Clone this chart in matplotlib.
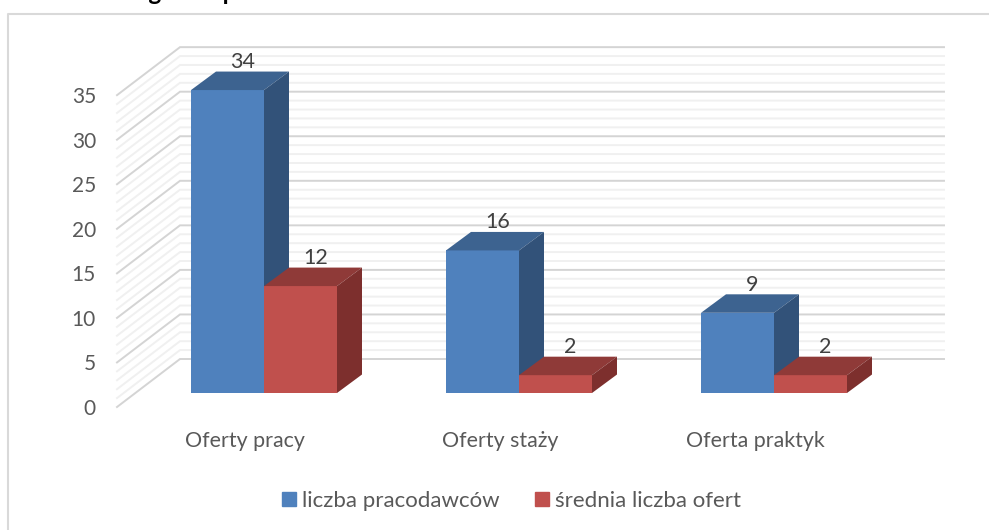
import numpy as np
import matplotlib
matplotlib.use('Agg')
import matplotlib.pyplot as plt
from matplotlib.patches import Patch

plt.rcParams['font.family'] = ['Lato', 'DejaVu Sans']

categories = ['Oferty pracy', 'Oferty staży', 'Oferta praktyk']
pracodawcy = [34, 16, 9]
oferty = [12, 2, 2]
series_names = ['liczba pracodawców', 'średnia liczba ofert']
y_ticks = [0, 5, 10, 15, 20, 25, 30, 35]
title = 'Liczba ofert ogółem pracodawców'

W, H = 989, 530
CAT_PX = 255.0  # px per category
VAL_PX = 8.91  # px per value unit
X0, Y0 = 264.0, 393.0  # px of first category, value 0 on the bar front

BAR_W = 73 / CAT_PX
DX = 25 / CAT_PX  # bar depth
DY = 18.5 / VAL_PX
WALL_BACK = (Y0 - 359) / VAL_PX  # value shift of the back wall
WALL_FRONT = (Y0 - 407) / VAL_PX  # value shift of the front of side wall
WALL_X0 = (117 - X0) / CAT_PX
WALL_X1 = (180 - X0) / CAT_PX
WALL_X2 = (944 - X0) / CAT_PX

BLUE = ('#4f81bd', '#3d6390', '#325279')
RED = ('#c0504d', '#8f3a38', '#7d2f2d')


def draw_bar(ax, x, v, colors):
    # front, top and side faces of one 3d looking bar
    ax.bar(x, v, BAR_W, align='edge', color=colors[0], lw=0, zorder=3)
    ax.fill([x, x + BAR_W, x + BAR_W + DX, x + DX], [v, v, v + DY, v + DY], color=colors[1], lw=0, zorder=3)
    ax.fill([x + BAR_W, x + BAR_W + DX, x + BAR_W + DX, x + BAR_W], [0, DY, v + DY, v], color=colors[2], lw=0, zorder=3)
    ax.text(x + BAR_W * 0.5 + 15 / CAT_PX, v + DY + 9.5 / VAL_PX, str(v), ha='center', va='center',
            fontsize=15.5, color='#404040', zorder=4)


fig = plt.figure(figsize=(W / 100, H / 100), dpi=100)
ax = fig.add_axes([0, 0, 1, 1])
ax.set_xlim(-X0 / CAT_PX, (W - X0) / CAT_PX)
ax.set_ylim((Y0 - H) / VAL_PX, Y0 / VAL_PX)
ax.axis('off')

# outer chart frame, runs off the right and bottom edges
ax.plot([8 / W, 8 / W, 1], [0, 1 - 14 / H, 1 - 14 / H], color='#d9d9d9', lw=1.5, transform=ax.transAxes, zorder=1)

# walls with gridlines
for v in range(0, 36):
    major = v % 5 == 0
    c = '#d4d4d4' if major else '#f0f0f0'
    z = 2 if major else 1.5
    ax.plot([WALL_X0, WALL_X1, WALL_X2], [v + WALL_FRONT, v + WALL_BACK, v + WALL_BACK], color=c, lw=1.4, zorder=z,
            solid_joinstyle='miter')

for t in y_ticks:
    ax.text((96 - X0) / CAT_PX, t + (Y0 - 409) / VAL_PX, str(t), ha='right', va='center', fontsize=15, color='#595959')

for i, name in enumerate(categories):
    draw_bar(ax, i - BAR_W, pracodawcy[i], BLUE)
    draw_bar(ax, i, oferty[i], RED)
    ax.text(i - 19 / CAT_PX, (Y0 - 441) / VAL_PX, name, ha='center', va='center', fontsize=15.4, color='#595959')

handles = [Patch(color=BLUE[0], label=series_names[0]), Patch(color=RED[0], label=series_names[1])]
ax.legend(handles=handles, ncol=2, frameon=False, fontsize=16, labelcolor='#595959', handlelength=0.63, handleheight=0.63,
          handletextpad=0.25, columnspacing=1.62, loc='center', bbox_to_anchor=(511.5 / W, 1 - 501 / H))

# title is cut by the top edge in the source
ax.text(0, 1 - 0.5 / H, title, transform=ax.transAxes, ha='left', va='baseline', fontsize=17.6, fontweight='bold',
        color='black', clip_on=False)

plt.savefig('out.png', dpi=100)
